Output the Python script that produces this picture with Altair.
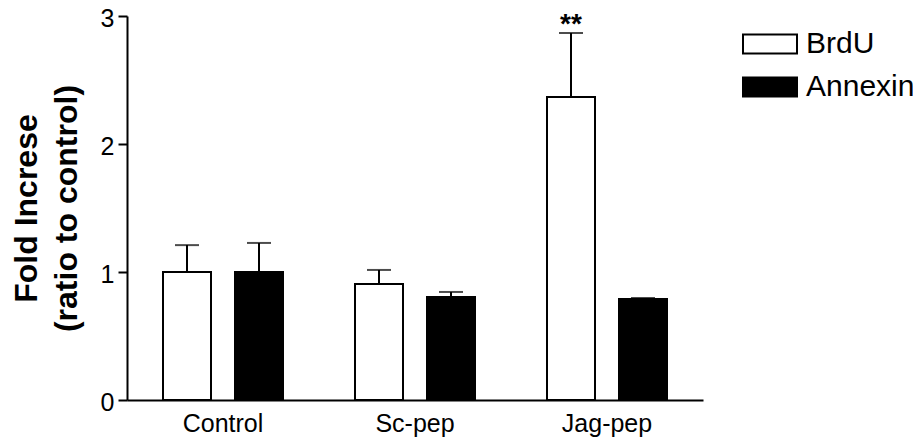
import altair as alt
import pandas as pd

groups = ["Control", "Control", "Sc-pep", "Sc-pep", "Jag-pep", "Jag-pep"]
series = ["BrdU", "Annexin", "BrdU", "Annexin", "BrdU", "Annexin"]
values = [1.0, 1.0, 0.906, 0.805, 2.367, 0.789]
upper = [1.21, 1.227, 1.016, 0.844, 2.867, 0.797]
marks = ["", "", "", "", "**", ""]

categories = ["Control", "Sc-pep", "Jag-pep"]
series_order = ["BrdU", "Annexin"]
fills = ["white", "black"]

df = pd.DataFrame({"group": groups, "series": series, "value": values,
                   "upper": upper, "mark": marks})

FONT = "Liberation Sans"

x = alt.X("group:N", sort=categories,
          scale=alt.Scale(paddingInner=0, paddingOuter=0),
          axis=alt.Axis(title=None, labelAngle=0, ticks=False, labelFontSize=25,
                        labelPadding=11, domainWidth=2, domainColor="black",
                        labelColor="black", labelFont=FONT))
xo = alt.XOffset("series:N", sort=series_order,
                 scale=alt.Scale(paddingInner=1/3, paddingOuter=0.5))
yscale = alt.Scale(domain=[0, 3], nice=False)

bars = alt.Chart(df).mark_bar(stroke="black", strokeWidth=2).encode(
    x=x, xOffset=xo,
    y=alt.Y("value:Q", scale=yscale,
            axis=alt.Axis(values=[0, 1, 2, 3], format="d", grid=False, tickSize=9,
                          tickWidth=2, domainWidth=2, domainColor="black",
                          tickColor="black", labelColor="black", labelFontSize=25,
                          labelPadding=4, labelFont=FONT, labelOffset=2,
                          title=["Fold Increse", "(ratio to control)"],
                          titleFontSize=32, titleFontWeight="bold", titleFont=FONT,
                          titleLineHeight=40, titlePadding=17, titleColor="black")),
    fill=alt.Fill("series:N", sort=series_order,
                  scale=alt.Scale(domain=series_order, range=fills),
                  legend=alt.Legend(title=None, orient="none", legendX=615, legendY=0,
                                    symbolType="M-1,-0.352L1,-0.352L1,0.352L-1,0.352Z",
                                    symbolSize=2916, symbolStrokeColor="black",
                                    symbolStrokeWidth=2, labelFontSize=30, labelFont=FONT,
                                    labelColor="black", labelOffset=8, padding=0,
                                    rowPadding=0)),
)

rules = alt.Chart(df).mark_rule(color="black", strokeWidth=2).encode(
    x=x, xOffset=xo, y=alt.Y("value:Q", scale=yscale), y2="upper:Q")

caps = alt.Chart(df).mark_tick(color="black", thickness=2, size=24, orient="horizontal").encode(
    x=x, xOffset=xo, y=alt.Y("upper:Q", scale=yscale))

stars = alt.Chart(df).transform_filter(alt.datum.mark != "").mark_text(
    font=FONT, fontSize=28, fontWeight="bold", baseline="alphabetic", color="black"
).encode(x=x, xOffset=xo, y=alt.Y("upper:Q", scale=yscale), text="mark:N")

chart = alt.layer(bars, rules, caps, stars).properties(
    width=576, height=384,
    background="white",
    view=alt.ViewBackground(stroke="transparent", strokeWidth=0),
    autosize=alt.AutoSizeParams(type="none"),
    padding={"left": 119, "top": 8, "right": 210, "bottom": 38},
).configure_view(strokeWidth=0, stroke="transparent")

chart.save("out.html", embed_options={"renderer": "svg", "actions": False})
